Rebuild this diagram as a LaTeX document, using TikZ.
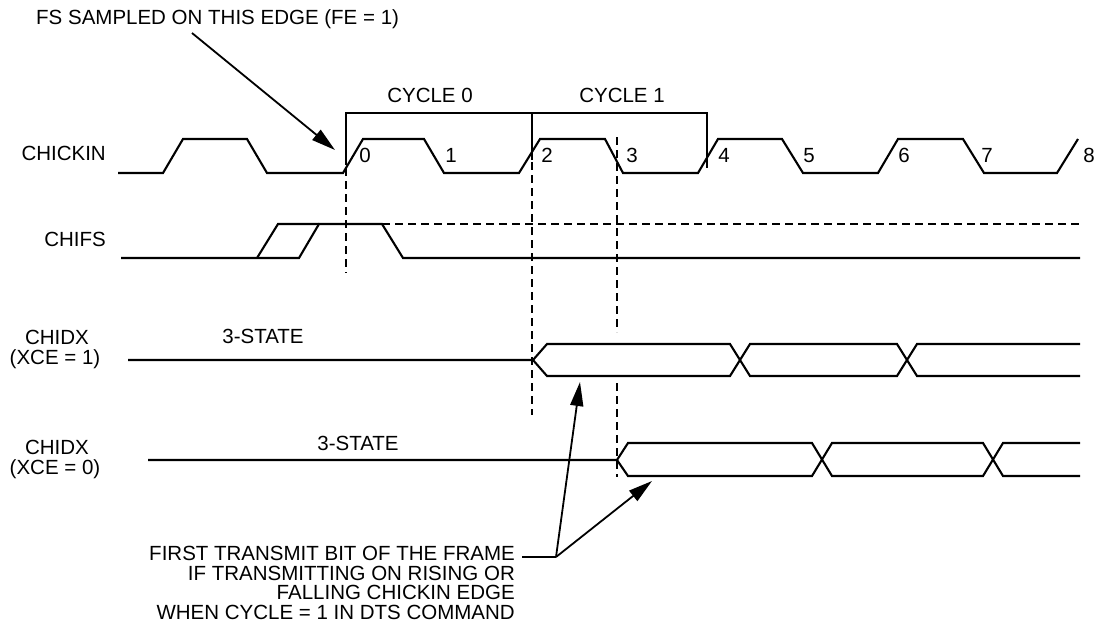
\documentclass[tikz,border=0pt]{standalone}
\usepackage{fontspec}
\setmainfont{Liberation Sans}
\usetikzlibrary{arrows.meta}
\begin{document}
\begin{tikzpicture}[x=1pt,y=-1pt,
  wave/.style={line width=2.1pt, line join=miter},
  brk/.style={line width=1.7pt},
  dsh/.style={line width=2.2pt, dash pattern=on 8pt off 5pt},
  lbl/.style={font=\fontsize{20.5}{24}\selectfont, inner sep=0pt},
  arr/.style={line width=1.8pt, -{Triangle[length=24pt,width=13pt]}}]
\useasboundingbox (0,0) rectangle (1103,627);

% labels
\node[lbl, anchor=base west] (fs) at (36,24) {FS SAMPLED ON THIS EDGE (FE = 1)};
\node[lbl, anchor=base east] (lclk) at (106,160) {CHICKIN};
\node[lbl, anchor=base east] (lfs) at (106,246) {CHIFS};
\node[lbl, anchor=base] (lx1a) at (57,344) {CHIDX};
\node[lbl, anchor=base] (lx1b) at (55,364) {(XCE = 1)};
\node[lbl, anchor=base] (lx0a) at (57,454) {CHIDX};
\node[lbl, anchor=base] (lx0b) at (55,474) {(XCE = 0)};
\node[lbl, anchor=base] (ts1) at (263,343) {3-STATE};
\node[lbl, anchor=base] (ts0) at (358,450) {3-STATE};
\node[lbl, anchor=base] (c0) at (430,102) {CYCLE 0};
\node[lbl, anchor=base] (c1) at (622,102) {CYCLE 1};

% edge numbers
\foreach \n/\x in {0/365,1/451,2/547,3/632,4/724,5/809,6/904,7/987,8/1089}
  \node[lbl, anchor=base] (d\n) at (\x,162) {\n};

% CHICKIN
\draw[wave] (118,173) -- (163,173) -- (183,139) -- (247,139) -- (267,173)
  -- (343,173) -- (363,139) -- (424,139) -- (444,173)
  -- (519,173) -- (540,139) -- (605,139) -- (623,173)
  -- (698,173) -- (718,139) -- (782,139) -- (803,173)
  -- (878,173) -- (898,139) -- (963,139) -- (984,173)
  -- (1057,173) -- (1078,139);

% cycle bracket
\draw[brk] (346,165) -- (346,113) -- (707,113) -- (707,168);
\draw[brk] (532,113) -- (532,160);

% dashed markers
\draw[dsh] (346,168) -- (346,273);
\draw[dsh] (532,162) -- (532,415);
\draw[dsh] (617,137) -- (617,332);
\draw[dsh] (617,383) -- (617,477);

% CHIFS
\draw[wave] (121,258) -- (299,258) -- (319,224) -- (382,224) -- (403,258) -- (1080,258);
\draw[wave] (257,258) -- (278,224) -- (319,224);
\draw[dsh, line width=2pt] (382,224) -- (1080,224);

% CHIDX XCE=1
\draw[wave] (128,360) -- (533,360) -- (547,344) -- (730,344) -- (750,376)
  -- (897,376) -- (917,344) -- (1080,344);
\draw[wave] (533,360) -- (547,376) -- (730,376) -- (750,344)
  -- (897,344) -- (917,376) -- (1080,376);

% CHIDX XCE=0
\draw[wave] (148,460) -- (617,460) -- (628,443) -- (812,443) -- (832,476)
  -- (983,476) -- (1003,443) -- (1080,443);
\draw[wave] (617,460) -- (628,476) -- (812,476) -- (832,443)
  -- (983,443) -- (1003,476) -- (1080,476);

% top arrow
\coordinate (fsA) at (192,33);
\coordinate (fsB) at (335,150);
\draw[arr] (fsA) -- (fsB);

% bottom annotation
\node[lbl, anchor=base east] (b1) at (515,560) {FIRST TRANSMIT BIT OF THE FRAME};
\node[lbl, anchor=base east] (b2) at (515,580) {IF TRANSMITTING ON RISING OR};
\node[lbl, anchor=base east] (b3) at (515,599) {FALLING CHICKIN EDGE};
\node[lbl, anchor=base east] (b4) at (515,619) {WHEN CYCLE = 1 IN DTS COMMAND};
\coordinate (h0) at (522,557);
\coordinate (h1) at (556,557);
\coordinate (t1) at (580,382);
\coordinate (t2) at (652,481);
\draw[line width=1.8pt] (h0) -- (h1);
\draw[arr] (h1) -- (t1);
\draw[arr] (h1) -- (t2);
\end{tikzpicture}
\end{document}
